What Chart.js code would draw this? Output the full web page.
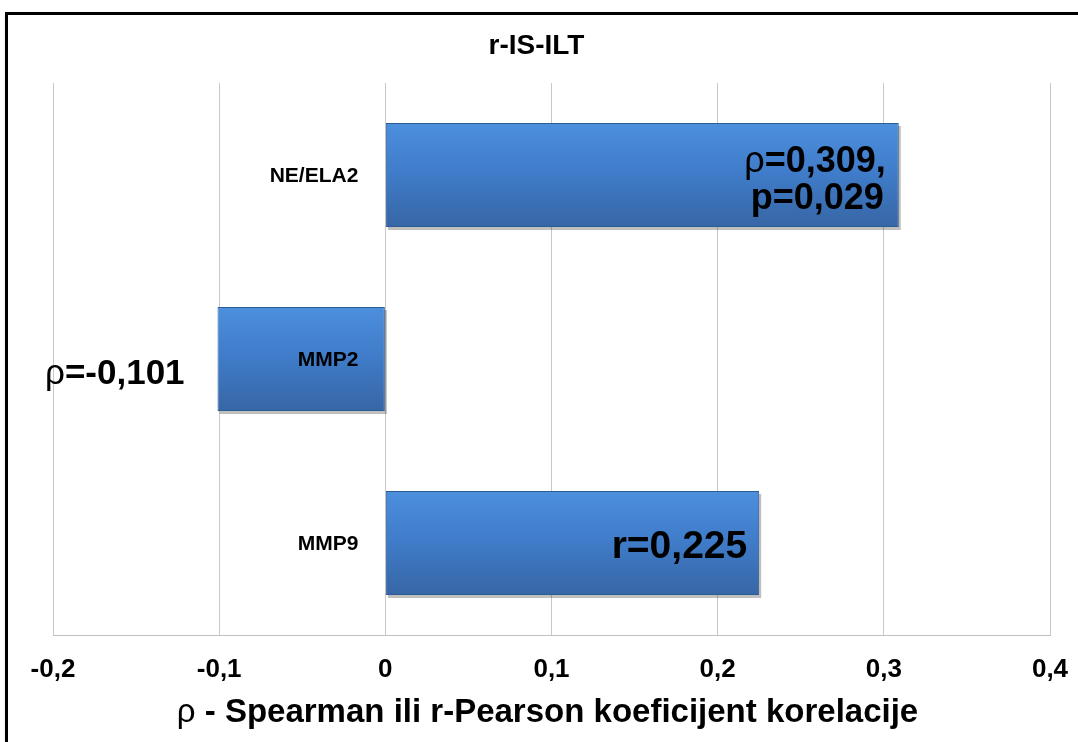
<!DOCTYPE html>
<html lang="hr">
<head>
    <meta charset="UTF-8">
    <title>r-IS-ILT</title>
    <script src="https://cdn.jsdelivr.net/npm/chart.js"></script>
    <style>
        html, body { margin: 0; padding: 0; background: #fff; overflow: hidden; }
        .frame { position: absolute; left: 5px; top: 12px; width: 1100px; height: 760px; border: 3px solid #000; box-shadow: 2px 3px 4px rgba(0,0,0,0.35); background: #fff; }
        .chart-box { position: relative; width: 1070px; height: 727px; }
    </style>
</head>
<body>
    <div class="frame">
        <div class="chart-box">
            <canvas id="corrChart"></canvas>
        </div>
    </div>

    <script>
        const chartTitle = 'r-IS-ILT';
        const axisTitle = 'ρ - Spearman ili r-Pearson koeficijent korelacije';
        const categories = ['NE/ELA2', 'MMP2', 'MMP9'];
        const coefficients = [0.309, -0.101, 0.225];
        const valueLabels = [['ρ=0,309,', 'p=0,029'], ['ρ=-0,101'], ['r=0,225']];
        const xTicks = [-0.2, -0.1, 0, 0.1, 0.2, 0.3, 0.4];

        const FONT = '"Liberation Sans", Arial, sans-serif';

        // text with a regular-weight rho in front, bold for the rest
        function drawRhoText(ctx, text, x, y, size, align) {
            let head = '', tail = text;
            if (text.startsWith('ρ')) { head = 'ρ'; tail = text.slice(1); }
            ctx.font = size + 'px ' + FONT;
            const hw = head ? ctx.measureText(head).width : 0;
            ctx.font = 'bold ' + size + 'px ' + FONT;
            const tw = ctx.measureText(tail).width;
            let start = x;
            if (align === 'right') start = x - hw - tw;
            if (align === 'center') start = x - (hw + tw) / 2;
            ctx.textAlign = 'left';
            ctx.textBaseline = 'middle';
            if (head) {
                ctx.font = size + 'px ' + FONT;
                ctx.fillText(head, start, y);
            }
            ctx.font = 'bold ' + size + 'px ' + FONT;
            ctx.fillText(tail, start + hw, y);
        }

        const barDecor = {
            id: 'barDecor',
            beforeDatasetsDraw(chart) {
                const c = chart.ctx;
                chart.getDatasetMeta(0).data.forEach(el => {
                    const top = el.y - el.height / 2, bot = el.y + el.height / 2;
                    const g = c.createLinearGradient(0, top, 0, bot);
                    g.addColorStop(0, '#4c8fdd');
                    g.addColorStop(0.5, '#3f7bc8');
                    g.addColorStop(1, '#3766a5');
                    el.options.backgroundColor = g;
                    // soft shadow under each bar
                    c.save();
                    c.fillStyle = 'rgba(0,0,0,0.25)';
                    const l = Math.min(el.x, el.base), w = Math.abs(el.x - el.base);
                    c.fillRect(l + 2, top + 3, w, el.height);
                    c.restore();
                });
            },
            afterDatasetsDraw(chart) {
                const c = chart.ctx;
                const area = chart.chartArea;
                const zero = chart.scales.x.getPixelForValue(0);
                c.save();
                c.fillStyle = '#000';

                // titles
                c.font = 'bold 28px ' + FONT;
                c.textAlign = 'center';
                c.textBaseline = 'middle';
                c.fillText(chartTitle, (area.left + area.right) / 2 - 15, 31);
                drawRhoText(c, axisTitle, (area.left + area.right) / 2 - 4, 698, 33, 'center');

                chart.getDatasetMeta(0).data.forEach((el, i) => {
                    // category names sit just left of the zero line
                    c.font = 'bold 21px ' + FONT;
                    c.textAlign = 'right';
                    c.textBaseline = 'middle';
                    c.fillText(categories[i], zero - 27, el.y + 1);

                    const lines = valueLabels[i];
                    if (coefficients[i] >= 0) {
                        if (lines.length === 2) {
                            drawRhoText(c, lines[0], el.x - 13, el.y - 13, 36, 'right');
                            drawRhoText(c, lines[1], el.x - 15, el.y + 24, 36, 'right');
                        } else {
                            drawRhoText(c, lines[0], el.x - 12, el.y + 4, 39, 'right');
                        }
                    } else {
                        drawRhoText(c, lines[0], area.left - 8, el.y + 15, 35, 'left');
                    }
                });
                c.restore();
            }
        };

        new Chart(document.getElementById('corrChart'), {
            type: 'bar',
            data: {
                labels: categories,
                datasets: [{
                    data: coefficients,
                    // scriptable so each bar gets its own options object
                    backgroundColor: () => '#3f7bc8',
                    borderColor: '#2e5d96',
                    borderWidth: 1,
                    borderSkipped: false,
                    barPercentage: 0.565,
                    categoryPercentage: 1
                }]
            },
            options: {
                indexAxis: 'y',
                responsive: true,
                maintainAspectRatio: false,
                animation: false,
                layout: { padding: { left: 45, right: 28, top: 68, bottom: 17 } },
                scales: {
                    x: {
                        min: -0.2,
                        max: 0.4,
                        afterBuildTicks: axis => { axis.ticks = xTicks.map(v => ({ value: v })); },
                        afterFit: axis => {
                            axis.paddingLeft = 0;
                            axis.paddingRight = 0;
                            axis.height = 90;
                        },
                        grid: { color: '#c8c8c8', drawTicks: false },
                        border: { color: '#c0c0c0', width: 1 },
                        ticks: {
                            padding: 19,
                            color: '#000',
                            font: { family: FONT, size: 26, weight: 'bold' },
                            callback: v => String(Math.round(v * 10) / 10).replace('.', ',')
                        }
                    },
                    y: { display: false }
                },
                plugins: {
                    legend: { display: false },
                    tooltip: { enabled: false },
                    title: { display: false }
                }
            },
            plugins: [barDecor]
        });
    </script>
</body>
</html>
